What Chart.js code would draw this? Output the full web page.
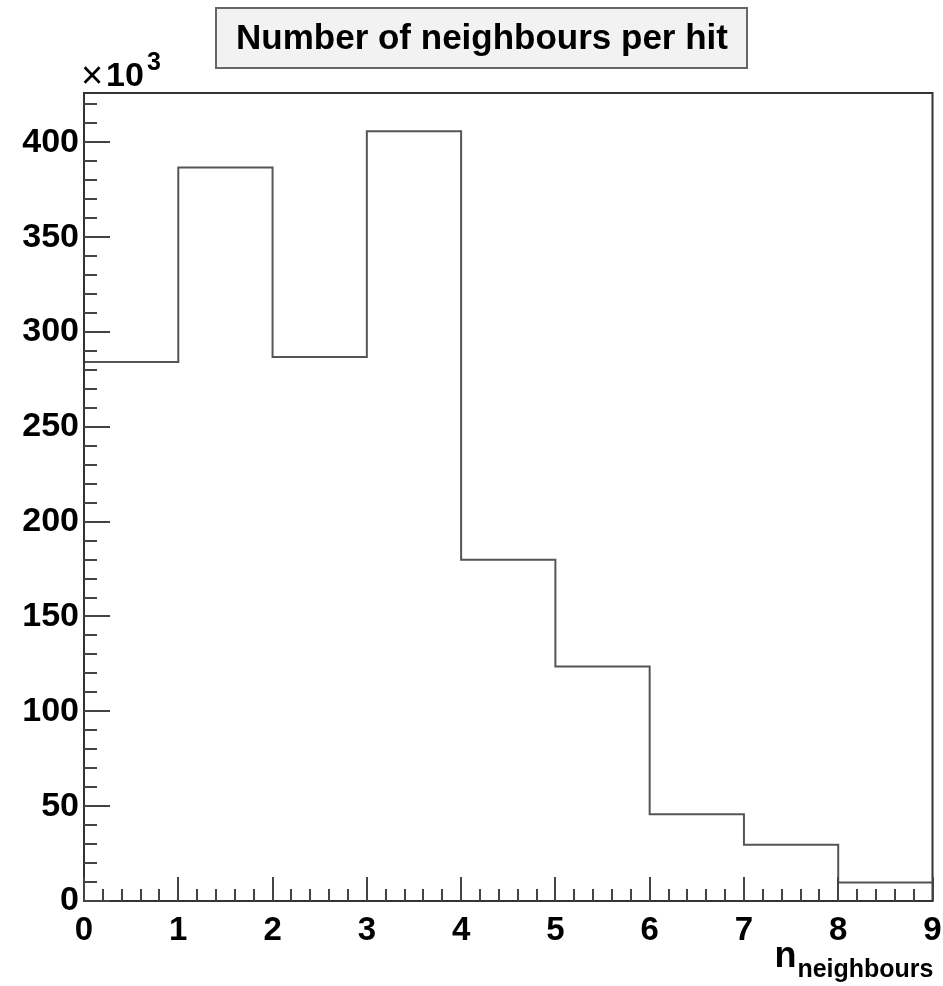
<!DOCTYPE html>
<html>
<head>
<meta charset="utf-8">
<script src="https://cdn.jsdelivr.net/npm/chart.js@4/dist/chart.umd.min.js"></script>
<style>
  body { margin: 0; background: #fff; }
  #wrap { width: 943px; height: 986px; }
</style>
</head>
<body>
<div id="wrap"><canvas id="hist" width="943" height="986"></canvas></div>
<script>
// bin edges and counts (in units of 10^3)
const binEdges = [0, 1, 2, 3, 4, 5, 6, 7, 8, 9];
const counts = [284.2, 386.7, 286.8, 405.8, 179.9, 123.6, 45.8, 29.6, 9.7];
const yMax = 426;
const yStep = 50;
const yMinorStep = 10;
const xMinorStep = 0.2;

const titleText = "Number of neighbours per hit";
const xTitleMain = "n";
const xTitleSub = "neighbours";

const FONT = "'Liberation Sans', Arial, Helvetica, sans-serif";

// step outline: one point per lower edge, plus the last upper edge
const points = counts.map((c, i) => ({ x: binEdges[i], y: c }));
points.push({ x: binEdges[binEdges.length - 1], y: counts[counts.length - 1] });

const rootFrame = {
    id: "rootFrame",
    afterDatasetsDraw(chart) {
        const ctx = chart.ctx;
        const area = chart.chartArea;
        const xs = chart.scales.x;
        const ys = chart.scales.y;
        ctx.save();

        // frame
        ctx.strokeStyle = "#333";
        ctx.lineWidth = 2;
        ctx.strokeRect(area.left, area.top, area.right - area.left, area.bottom - area.top);

        // inward ticks on the left axis
        ctx.strokeStyle = "#444";
        ctx.beginPath();
        for (let v = 0; v <= ys.max + 1e-9; v += yMinorStep) {
            const y = Math.round(ys.getPixelForValue(v));
            const major = Math.abs(v % yStep) < 1e-6;
            ctx.moveTo(area.left, y);
            ctx.lineTo(area.left + (major ? 26 : 13), y);
        }
        // inward ticks on the bottom axis
        for (let i = 0; i <= Math.round((xs.max - xs.min) / xMinorStep); i++) {
            const v = xs.min + i * xMinorStep;
            const x = Math.round(xs.getPixelForValue(v));
            const major = i % 5 === 0;
            ctx.moveTo(x, area.bottom);
            ctx.lineTo(x, area.bottom - (major ? 24 : 12));
        }
        ctx.stroke();

        // title box
        ctx.fillStyle = "#f2f2f2";
        ctx.strokeStyle = "#666";
        ctx.lineWidth = 2;
        ctx.beginPath();
        ctx.rect(216, 8, 531, 60);
        ctx.fill();
        ctx.stroke();
        ctx.fillStyle = "#000";
        ctx.font = "bold 35px " + FONT;
        ctx.textAlign = "center";
        ctx.textBaseline = "middle";
        ctx.fillText(titleText, 482, 39);

        // exponent above the y axis
        ctx.textAlign = "left";
        ctx.textBaseline = "alphabetic";
        ctx.font = "38px " + FONT;
        ctx.fillText("\u00d7", 81, 88);
        ctx.font = "bold 34px " + FONT;
        ctx.fillText("10", 106, 86);
        ctx.font = "bold 25px " + FONT;
        ctx.fillText("3", 147, 70);

        // x axis title, right aligned to the frame
        ctx.textAlign = "right";
        ctx.font = "bold 25px " + FONT;
        const subW = ctx.measureText(xTitleSub).width;
        ctx.fillText(xTitleSub, area.right + 1, 977);
        ctx.font = "bold 36px " + FONT;
        ctx.fillText(xTitleMain, area.right + 1 - subW - 1, 967);

        ctx.restore();
    }
};

new Chart(document.getElementById("hist"), {
    type: "line",
    data: {
        datasets: [{
            data: points,
            stepped: "before",
            borderColor: "#555",
            borderWidth: 2,
            pointRadius: 0,
            fill: false,
        }],
    },
    options: {
        responsive: false,
        animation: false,
        layout: { padding: { top: 93, right: 0, left: 0, bottom: 0 } },
        plugins: {
            legend: { display: false },
            tooltip: { enabled: false },
        },
        scales: {
            x: {
                type: "linear",
                min: binEdges[0],
                max: binEdges[binEdges.length - 1],
                grid: { display: false, drawTicks: false },
                border: { display: false },
                ticks: {
                    stepSize: 1,
                    maxRotation: 0,
                    padding: 10,
                    color: "#000",
                    font: { family: FONT, size: 33, weight: "bold" },
                },
                afterFit(scale) {
                    scale.height = 85;
                    scale.paddingRight = 10.5;
                },
            },
            y: {
                min: 0,
                max: yMax,
                grid: { display: false, drawTicks: false },
                border: { display: false },
                ticks: {
                    stepSize: yStep,
                    includeBounds: false,
                    padding: 5,
                    color: "#000",
                    font: { family: FONT, size: 34, weight: "bold" },
                },
                afterFit(scale) { scale.width = 84; },
            },
        },
    },
    plugins: [rootFrame],
});
</script>
</body>
</html>
